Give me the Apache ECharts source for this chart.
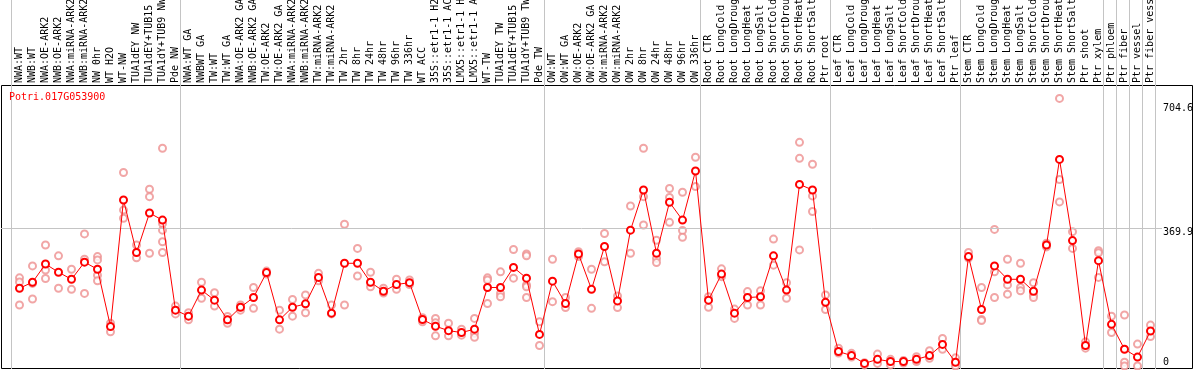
<!DOCTYPE html>
<html>
<head>
<meta charset="utf-8">
<script src="https://cdn.jsdelivr.net/npm/echarts@6/dist/echarts.min.js"></script>
<style>html,body{margin:0;padding:0;background:#fff;}#c{width:1194px;height:370px;}</style>
</head>
<body>
<div id="c"></div>
<script>
const geneName = 'Potri.017G053900';
const categories = [
 'NWA:WT','NWB:WT','NWA:OE-ARK2','NWB:OE-ARK2','NWA:miRNA-ARK2','NWB:miRNA-ARK2','NW 0hr','WT H2O','WT-NW','TUA1dEY NW','TUA1dEY+TUB15','TUA1dY+TUB9 NW','Pde NW',
 'NWA:WT GA','NWBWT GA','TW:WT','TW:WT GA','NWA:OE-ARK2 GA','NWB:OE-ARK2 GA','TW:OE-ARK2','TW:OE-ARK2 GA','NWA:miRNA-ARK2','NWB:miRNA-ARK2','TW:miRNA-ARK2','TW:miRNA-ARK2',
 'TW 2hr','TW 8hr','TW 24hr','TW 48hr','TW 96hr','TW 336hr','WT ACC','35S::etr1-1 H2O','35S::etr1-1 ACC','LMX5::etr1-1 H2O','LMX5::etr1-1 ACC','WT-TW','TUA1dEY TW','TUA1dEY+TUB15','TUA1dY+TUB9 TW','Pde TW',
 'OW:WT','OW:WT GA','OW:OE-ARK2','OW:OE-ARK2 GA','OW:miRNA-ARK2','OW:miRNA-ARK2','OW 2hr','OW 8hr','OW 24hr','OW 48hr','OW 96hr','OW 336hr',
 'Root CTR','Root LongCold','Root LongDrought','Root LongHeat','Root LongSalt','Root ShortCold','Root ShortDrought','Root ShortHeat','Root ShortSalt','Ptr root',
 'Leaf CTR','Leaf LongCold','Leaf LongDrought','Leaf LongHeat','Leaf LongSalt','Leaf ShortCold','Leaf ShortDrought','Leaf ShortHeat','Leaf ShortSalt','Ptr leaf',
 'Stem CTR','Stem LongCold','Stem LongDrought','Stem LongHeat','Stem LongSalt','Stem ShortCold','Stem ShortDrought','Stem ShortHeat','Stem ShortSalt','Ptr shoot','Ptr xylem',
 'Ptr phloem','Ptr fiber','Ptr vessel','Ptr fiber vessel'
];
const meanValues = [
 209,225,274,252,233,279,260,106,446,305,411,392,150,
 134,204,177,124,158,184,251,124,158,167,238,142,276,276,225,201,219,224,125,107,95,90,99,211,211,265,236,85,
 228,168,301,206,321,175,365,473,303,440,392,524,
 177,247,142,184,186,296,204,488,473,171,
 39,28,7,18,12,12,18,28,58,10,
 294,152,269,233,233,201,325,555,337,55,283,
 112,45,24,94
];
const replicateValues = [
 [237,226,164],[269,222,180],[325,258,235],[296,209],[260,206],[355,287,195],[294,285,244,229],[115,92],[520,419,397],[325,291],[475,455,303],[585,383,365,334,305],[161,140],
 [143,124],[225,182],[197,161],[133,115],[164,150],[211,155],[255,247],[150,99],[179,134],[191,143],[249,229],[164,140],[381,164],[316,242],[252,213],[209,196],[233,206],[231,219],[119,130],[128,116,81],[115,81],[99,83],[128,88,77],[237,231,168],[253,195,186],[313,236],[301,296,218,213,184],[119,55],
 [287,173],[184,157],[307,294],[260,155],[356,280],[188,157],[430,303],[585,455,379],[338,289,278],[477,453,386],[467,364,346],[561,482],
 [186,158],[261,240],[153,128],[200,164],[202,164],[341,271],[224,182],[601,558,312],[542,457,415],[191,152],
 [48,35],[34,24],[9,3],[32,7],[18,3],[15,8],[25,12],[41,21],[74,45],[22,0],
 [305,290],[211,125,122],[367,253,184],[287,218,193],[276,211,202],[224,191,184],[330,320],[719,501,441],[361,316],[65,48],[310,304,238],
 [134,90],[137,10,0],[59,0],[110,79]
];
const groupStarts = [0,13,41,53,63,73,84,85,86,87,88];
const yTickValues = [0,369.9,704.6];
const yTickLabels = ['0','369.9','704.6'];

const MONO = 'DejaVu Sans Mono';
const repPoints = [];
replicateValues.forEach((arr,i)=>arr.forEach(v=>repPoints.push([i,v])));

const chart = echarts.init(document.getElementById('c'), null, {renderer:'canvas'});
const hiddenVal = {type:'value', show:false, splitLine:{show:false}};
const G = {outerBoundsMode:'none', containLabel:false};
chart.setOption({
  animation:false,
  backgroundColor:'#fff',
  title:{text:geneName,left:4,top:87,textStyle:{fontFamily:MONO,fontSize:10,fontWeight:'normal',color:'#ff0000'}},
  grid:[
    Object.assign({left:13,right:37,top:85,bottom:1},G),
    Object.assign({left:1.5,right:1.5,top:85.5,bottom:1.5,show:true,borderColor:'#000',borderWidth:1,backgroundColor:'transparent'},G),
    Object.assign({left:0,right:0,top:0,bottom:1},G),
    Object.assign({left:1,right:32,top:85,bottom:1},G)
  ],
  xAxis:[
    {gridIndex:0,type:'category',data:categories,position:'top',boundaryGap:true,
     axisLine:{show:false},axisTick:{show:false},splitLine:{show:false},
     axisLabel:{rotate:90,interval:0,margin:2,fontFamily:MONO,fontSize:10,color:'#000',hideOverlap:false}},
    Object.assign({gridIndex:1},hiddenVal),
    {gridIndex:2,type:'value',show:false,min:-1.5,max:-1.5+1194/13,splitLine:{show:false}},
    Object.assign({gridIndex:3,min:0,max:1},hiddenVal)
  ],
  yAxis:[
    {gridIndex:0,type:'value',show:false,min:-8,max:755,splitLine:{show:false}},
    Object.assign({gridIndex:1},hiddenVal),
    Object.assign({gridIndex:2,min:0,max:1},hiddenVal),
    {gridIndex:3,type:'value',show:false,min:-8,max:755,splitLine:{show:false}}
  ],
  series:[
    {type:'line',xAxisIndex:2,yAxisIndex:2,data:[],z:1,silent:true,
     markLine:{silent:true,symbol:['none','none'],animation:false,
       lineStyle:{color:'#c4c4c4',width:1,type:'solid'},label:{show:false},
       data:groupStarts.map(k=>({xAxis:k-0.65}))}},
    {type:'line',xAxisIndex:3,yAxisIndex:3,data:[],z:1,silent:true,
     markLine:{silent:true,symbol:['none','none'],animation:false,
       lineStyle:{color:'#c4c4c4',width:1,type:'solid'},
       label:{show:true,position:'end',distance:1,fontFamily:MONO,fontSize:10,color:'#000'},
       data:yTickValues.map((v,i)=>({yAxis:v,
          lineStyle:{color: i===1?'#c4c4c4':'rgba(0,0,0,0)'},
          label:{show:true,color:'#000',formatter:yTickLabels[i],offset: i===0?[0,-4]:[0,4.5]}}))}},
    {type:'scatter',xAxisIndex:0,yAxisIndex:0,data:repPoints,z:3,
     symbol:'emptyCircle',symbolSize:7,
     itemStyle:{color:'#ee9090',borderColor:'#ee9090',borderWidth:1.3}},
    {type:'line',xAxisIndex:0,yAxisIndex:0,data:meanValues,z:5,
     symbol:'emptyCircle',symbolSize:7,showSymbol:true,
     lineStyle:{color:'#ff0000',width:1},
     itemStyle:{color:'#ff0000',borderColor:'#e00000',borderWidth:2}}
  ]
});
</script>
</body>
</html>
